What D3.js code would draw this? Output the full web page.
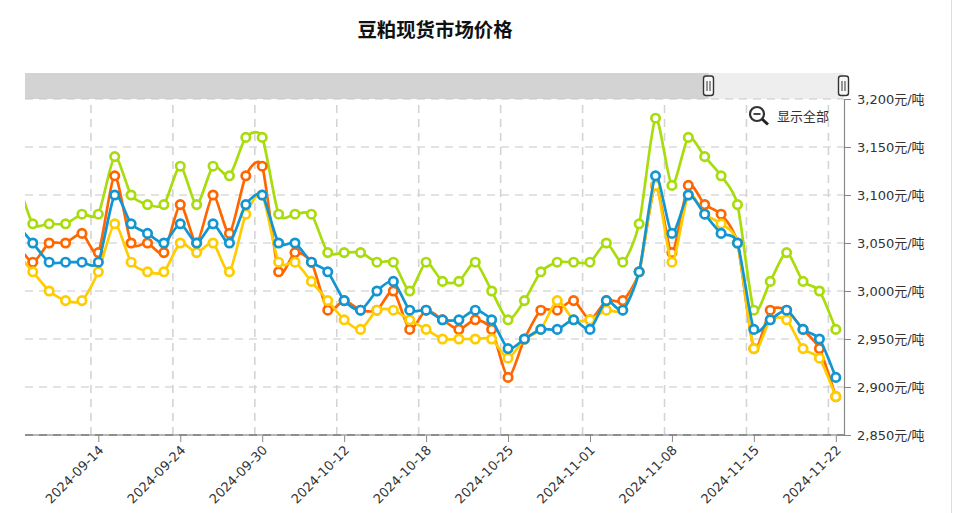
<!DOCTYPE html>
<html lang="zh">
<head>
<meta charset="UTF-8">
<title>豆粕现货市场价格</title>
<script src="https://d3js.org/d3.v7.min.js"></script>
<style>
  html, body { margin: 0; padding: 0; background: #fff; overflow: hidden; }
  text { font-family: "DejaVu Sans", sans-serif; }
</style>
</head>
<body>
<svg id="chart" width="960" height="513"></svg>
<script>
// 交易日
const dates = [
    "2024-09-09", "2024-09-10", "2024-09-11", "2024-09-12", "2024-09-13", "2024-09-14",
    "2024-09-18", "2024-09-19", "2024-09-20", "2024-09-23", "2024-09-24",
    "2024-09-25", "2024-09-26", "2024-09-27", "2024-09-29", "2024-09-30",
    "2024-10-08", "2024-10-09", "2024-10-10", "2024-10-11", "2024-10-12",
    "2024-10-14", "2024-10-15", "2024-10-16", "2024-10-17", "2024-10-18",
    "2024-10-21", "2024-10-22", "2024-10-23", "2024-10-24", "2024-10-25",
    "2024-10-28", "2024-10-29", "2024-10-30", "2024-10-31", "2024-11-01",
    "2024-11-04", "2024-11-05", "2024-11-06", "2024-11-07", "2024-11-08",
    "2024-11-11", "2024-11-12", "2024-11-13", "2024-11-14", "2024-11-15",
    "2024-11-18", "2024-11-19", "2024-11-20", "2024-11-21", "2024-11-22"
];
const dateTicks = ["2024-09-14", "2024-09-24", "2024-09-30", "2024-10-12", "2024-10-18",
    "2024-10-25", "2024-11-01", "2024-11-08", "2024-11-15", "2024-11-22"];
const priceTicks = [2850, 2900, 2950, 3000, 3050, 3100, 3150, 3200];

const greenValues = [3120, 3070, 3070, 3070, 3080, 3080, 3140, 3100, 3090, 3090, 3130,
    3090, 3130, 3120, 3160, 3160, 3080, 3080, 3080, 3040, 3040,
    3040, 3030, 3030, 3000, 3030, 3010, 3010, 3030, 3000, 2970,
    2990, 3020, 3030, 3030, 3030, 3050, 3030, 3070, 3180, 3110,
    3160, 3140, 3120, 3090, 2980, 3010, 3040, 3010, 3000, 2960];
const orangeValues = [3050, 3030, 3050, 3050, 3060, 3040, 3120, 3050, 3050, 3040, 3090,
    3050, 3100, 3060, 3120, 3130, 3020, 3040, 3030, 2980, 2990,
    2980, 2980, 3000, 2960, 2980, 2970, 2960, 2970, 2960, 2910,
    2950, 2980, 2980, 2990, 2970, 2990, 2990, 3020, 3110, 3040,
    3110, 3090, 3080, 3050, 2940, 2980, 2980, 2960, 2940, 2890];
const yellowValues = [3040, 3020, 3000, 2990, 2990, 3020, 3070, 3030, 3020, 3020, 3050,
    3040, 3050, 3020, 3080, 3100, 3030, 3030, 3010, 2990, 2970,
    2960, 2980, 2980, 2970, 2960, 2950, 2950, 2950, 2950, 2930,
    2950, 2960, 2990, 2970, 2970, 2980, 2980, 3020, 3110, 3030,
    3100, 3080, 3070, 3050, 2940, 2970, 2970, 2940, 2930, 2890];
const blueValues = [3070, 3050, 3030, 3030, 3030, 3030, 3100, 3070, 3060, 3050, 3070,
    3050, 3070, 3050, 3090, 3100, 3050, 3050, 3030, 3020, 2990,
    2980, 3000, 3010, 2980, 2980, 2970, 2970, 2980, 2970, 2940,
    2950, 2960, 2960, 2970, 2960, 2990, 2980, 3020, 3120, 3060,
    3100, 3080, 3060, 3050, 2960, 2970, 2980, 2960, 2950, 2910];

const seriesValues = [greenValues, orangeValues, yellowValues, blueValues];
const seriesColors = ["#a8dc0c", "#ff6600", "#ffcc00", "#1296d2"];

const svg = d3.select("#chart");

const plotLeft = 25, plotRight = 844, plotTop = 99, plotBottom = 435;

// x축: 밴드 중심에 점, 밴드 왼쪽 끝에 그리드
const xScale = d3.scaleBand().domain(dates).range([8.2, 844]);
const xCenter = d => xScale(d) + xScale.bandwidth() / 2;
const yScale = d3.scaleLinear().domain([2850, 3200]).range([plotBottom, plotTop]);

svg.append("defs").append("clipPath").attr("id", "plot-clip")
    .append("rect")
    .attr("x", plotLeft).attr("y", plotTop)
    .attr("width", plotRight - plotLeft).attr("height", plotBottom - plotTop);

// 标题
svg.append("text")
    .attr("x", 435).attr("y", 37)
    .attr("text-anchor", "middle")
    .style("font-family", '"Noto Sans CJK SC", sans-serif')
    .style("font-size", "19.4px")
    .style("font-weight", "bold")
    .style("fill", "#111")
    .text("豆粕现货市场价格");

// 滚动条
svg.append("rect").attr("x", plotLeft).attr("y", 73).attr("width", plotRight - plotLeft).attr("height", 26).attr("fill", "#eeeeee");
svg.append("rect").attr("x", plotLeft).attr("y", 73).attr("width", 708.5 - plotLeft).attr("height", 26).attr("fill", "#d3d3d3");

// 网格
const grid = svg.append("g").attr("fill", "none");
grid.selectAll("line.h")
    .data(priceTicks.slice(1))
    .enter().append("line")
    .attr("class", "h")
    .attr("x1", plotLeft).attr("x2", plotRight)
    .attr("y1", d => yScale(d)).attr("y2", d => yScale(d))
    .attr("stroke", "#c8c8c8").attr("stroke-width", 1.2)
    .attr("stroke-dasharray", "8,6");
grid.selectAll("line.v")
    .data(dateTicks)
    .enter().append("line")
    .attr("class", "v")
    .attr("x1", d => xScale(d) + 0.8).attr("x2", d => xScale(d) + 0.8)
    .attr("y1", plotBottom).attr("y2", plotTop)
    .attr("stroke", "#d4d4d4").attr("stroke-width", 1.6)
    .attr("stroke-dasharray", "8,6");

// 滚动条把手
[708.5, 843.5].forEach(hx => {
    svg.append("rect").attr("x", hx - 5).attr("y", 76).attr("width", 10).attr("height", 19.5).attr("rx", 2.5)
        .attr("fill", "#f8f8f8").attr("stroke", "#333").attr("stroke-width", 1.4);
    svg.append("path").attr("d", `M${hx - 1.5},81V91M${hx + 1.5},81V91`)
        .attr("stroke", "#555").attr("stroke-width", 1.2).attr("fill", "none");
});

// 数据线与点
const lineGen = d3.line()
    .x((v, i) => xCenter(dates[i]))
    .y(v => yScale(v))
    .curve(d3.curveCardinal.tension(0.3));

const plot = svg.append("g").attr("clip-path", "url(#plot-clip)");
seriesValues.forEach((values, s) => {
    const g = plot.append("g");
    g.append("path")
        .datum(values)
        .attr("d", lineGen)
        .attr("fill", "none")
        .attr("stroke", seriesColors[s])
        .attr("stroke-width", 2.7);
    g.selectAll("circle")
        .data(values)
        .enter().append("circle")
        .attr("cx", (v, i) => xCenter(dates[i]))
        .attr("cy", v => yScale(v))
        .attr("r", 4.2)
        .attr("fill", "#fff")
        .attr("stroke", seriesColors[s])
        .attr("stroke-width", 2.7);
});

// x축
const xAxis = svg.append("g")
    .attr("transform", `translate(0,${plotBottom})`)
    .call(d3.axisBottom(d3.scalePoint().domain(dates).range([xCenter(dates[0]), xCenter(dates[50])]))
        .tickValues(dateTicks).tickSize(7).tickSizeOuter(0));
xAxis.select(".domain").remove();
xAxis.selectAll("line").attr("stroke", "#888");
xAxis.selectAll("text")
    .attr("transform", "translate(5.5,16) rotate(-45)")
    .attr("text-anchor", "end")
    .attr("x", 0).attr("y", 0).attr("dy", 0)
    .style("font-size", "13px")
    .style("fill", "#333");

svg.append("line").attr("x1", plotLeft).attr("x2", plotRight).attr("y1", plotBottom).attr("y2", plotBottom)
    .attr("stroke", "#a0a0a0").attr("stroke-width", 1.4);
svg.append("line").attr("x1", plotLeft).attr("x2", plotRight).attr("y1", plotBottom).attr("y2", plotBottom)
    .attr("stroke", "#808080").attr("stroke-width", 1.4).attr("stroke-dasharray", "8,6");

// y축
const yAxis = svg.append("g")
    .attr("transform", `translate(${plotRight},0)`)
    .call(d3.axisRight(yScale).tickValues(priceTicks).tickSize(7).tickSizeOuter(0)
        .tickFormat(d => d3.format(",")(d) + "元/吨"));
yAxis.select(".domain").attr("stroke", "#888").attr("stroke-width", 1.2);
yAxis.selectAll("line").attr("stroke", "#888");
yAxis.selectAll("text")
    .attr("x", 13)
    .style("font-family", '"DejaVu Sans", "Noto Sans CJK SC", sans-serif')
    .style("font-size", "13px")
    .style("fill", "#333");

// 显示全部
const zoomBtn = svg.append("g").attr("transform", "translate(757,114)");
zoomBtn.append("circle").attr("r", 7).attr("fill", "#fff").attr("stroke", "#333").attr("stroke-width", 2.2);
zoomBtn.append("path").attr("d", "M-3.5,0H3.5").attr("stroke", "#333").attr("stroke-width", 1.8);
zoomBtn.append("path").attr("d", "M5,5L11,10.5").attr("stroke", "#222").attr("stroke-width", 3);
svg.append("text")
    .attr("x", 777).attr("y", 121)
    .style("font-family", '"Noto Sans CJK SC", sans-serif')
    .style("font-size", "13px")
    .style("fill", "#333")
    .text("显示全部");

// 页面右侧滚动条边线
svg.append("line").attr("x1", 951.5).attr("x2", 951.5).attr("y1", 0).attr("y2", 513)
    .attr("stroke", "#ddd").attr("stroke-width", 1);
</script>
</body>
</html>
